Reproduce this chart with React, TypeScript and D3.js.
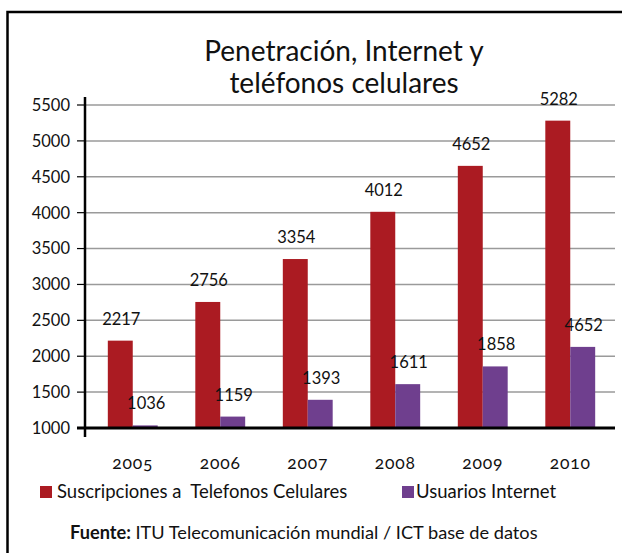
import * as d3 from "d3";

const years = ["2005", "2006", "2007", "2008", "2009", "2010"];
const celulares = [2217, 2756, 3354, 4012, 4652, 5282];
const internet = [1036, 1159, 1393, 1611, 1858, 2130];
// labels printed on the purple bars (the last one reads 4652 in the original)
const internetLabels = ["1036", "1159", "1393", "1611", "1858", "4652"];
const yTicks = [1000, 1500, 2000, 2500, 3000, 3500, 4000, 4500, 5000, 5500];
const seriesNames = ["Suscripciones a  Telefonos Celulares", "Usuarios Internet"];

const RED = "#AB1B22";
const PURPLE = "#6F3F8E";
const FONT = "Lato, 'Open Sans', sans-serif";

export default function App() {
  const width = 622;
  const height = 553;

  const y = d3.scaleLinear().domain([1000, 5500]).range([428, 105]);
  const x = d3.scaleBand().domain(years).range([89, 614]).paddingInner(0.43).paddingOuter(0.215);
  const inner = d3.scaleBand().domain(["0", "1"]).range([0, x.bandwidth()]);

  const axisLeft = 85;
  const gridRight = 615;

  return (
    <svg
      width={width}
      height={height}
      style={{ position: "absolute", left: 0, top: 0, background: "#fff" }}
      fontFamily={FONT}
    >
      <rect x={0} y={0} width={width} height={height} fill="#fff" />
      <rect x={7.5} y={12} width={700} height={600} fill="none" stroke="#000" strokeWidth={2.5} />

      {/* title */}
      <text x={344} y={61} textAnchor="middle" fontSize={28} fill="#111">Penetración, Internet y</text>
      <text x={344} y={93} textAnchor="middle" fontSize={28} fill="#111">teléfonos celulares</text>

      {/* grid + tick labels */}
      {yTicks.map((t) => (
        <g key={t}>
          {t !== 1000 && (
            <line x1={axisLeft} x2={gridRight} y1={y(t)} y2={y(t)} stroke="#9a9a9a" strokeWidth={1.5} />
          )}
          <line x1={77} x2={axisLeft} y1={y(t)} y2={y(t)} stroke="#000" strokeWidth={1.2} />
          <text x={70} y={y(t)} dy="0.36em" textAnchor="end" fontSize={16.5} fill="#111">{t}</text>
        </g>
      ))}

      {/* bars */}
      {years.map((yr, i) => {
        const x0 = x(yr)!;
        const bw = inner.bandwidth();
        const rx = x0 + inner("0")!;
        const px = x0 + inner("1")!;
        return (
          <g key={yr}>
            <rect x={rx} y={y(celulares[i])} width={bw} height={y(1000) - y(celulares[i])} fill={RED} />
            <rect x={px} y={y(internet[i])} width={bw} height={y(1000) - y(internet[i])} fill={PURPLE} />
            <text x={rx + bw / 2 + 1} y={y(celulares[i]) - 16} textAnchor="middle" fontSize={16.5} fill="#111">
              {celulares[i]}
            </text>
            <text x={px + bw / 2 + 1} y={y(internet[i]) - 16} textAnchor="middle" fontSize={16.5} fill="#111">
              {internetLabels[i]}
            </text>
            <text
              x={x0 + x.bandwidth() / 2}
              y={469}
              textAnchor="middle"
              fontSize={17.5}
              fill="#111"
              style={{ fontVariantNumeric: "oldstyle-nums", letterSpacing: "0.8px" }}
            >
              {yr}
            </text>
          </g>
        );
      })}

      {/* axes */}
      <line x1={axisLeft} x2={axisLeft} y1={97} y2={437} stroke="#000" strokeWidth={2.5} />
      <line x1={77} x2={gridRight} y1={y(1000)} y2={y(1000)} stroke="#000" strokeWidth={3} />

      {/* legend */}
      <rect x={40} y={486} width={12} height={12} fill={RED} />
      <text x={57} y={498} fontSize={18.5} fill="#111" style={{ whiteSpace: "pre" }}>{seriesNames[0]}</text>
      <rect x={402} y={486} width={12} height={12} fill={PURPLE} />
      <text x={416} y={498} fontSize={18.5} fill="#111">{seriesNames[1]}</text>

      {/* source */}
      <text x={70} y={539} fontSize={18.2} fill="#111">
        <tspan fontWeight="bold">Fuente:</tspan>
        <tspan> ITU Telecomunicación mundial / ICT base de datos</tspan>
      </text>
    </svg>
  );
}
